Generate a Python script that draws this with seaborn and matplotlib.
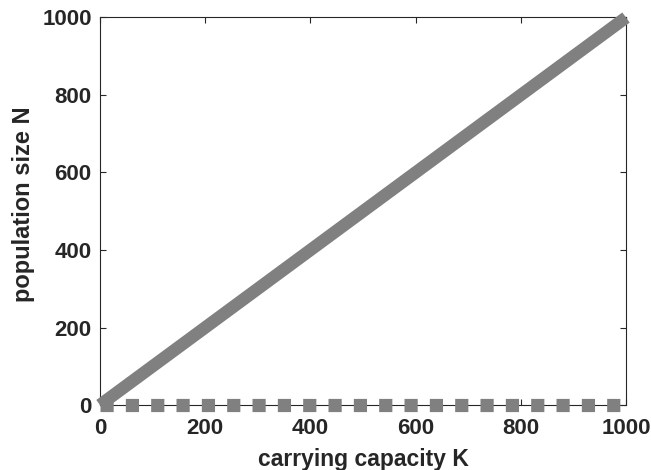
import matplotlib
matplotlib.use("Agg")
import matplotlib.pyplot as plt
import seaborn as sns
import pandas as pd

# data
carrying_capacity = [0, 1000]
population_stable = [0, 1000]
population_zero = [0, 0]
x_ticks = [0, 200, 400, 600, 800, 1000]
y_ticks = [0, 200, 400, 600, 800, 1000]

sns.set_style("ticks")
plt.rcParams["font.family"] = ["Liberation Sans", "DejaVu Sans"]
plt.rcParams["font.weight"] = "bold"

dark = "#262626"
gray = "#808080"

fig = plt.figure(figsize=(6.51, 4.70), dpi=100)
ax = fig.add_axes([100 / 651, 65 / 470, 526 / 651, 387.5 / 470])

df1 = pd.DataFrame({"K": carrying_capacity, "N": population_stable})
df2 = pd.DataFrame({"K": carrying_capacity, "N": population_zero})

sns.lineplot(data=df1, x="K", y="N", ax=ax, color=gray, linewidth=9.0,
             solid_capstyle="butt", clip_on=False, zorder=5)
sns.lineplot(data=df2, x="K", y="N", ax=ax, color=gray, linewidth=9.5,
             clip_on=False, zorder=5)
ax.lines[-1].set_dashes((1.0, 0.92))
ax.lines[-1].set_dash_capstyle("butt")

ax.set_xlim(0, 1000)
ax.set_ylim(0, 1000)
ax.set_xticks(x_ticks)
ax.set_yticks(y_ticks)
ax.set_xticklabels([str(v) for v in x_ticks])
ax.set_yticklabels([str(v) for v in y_ticks])

for s in ax.spines.values():
    s.set_visible(True)
    s.set_color(dark)
    s.set_linewidth(0.8)

ax.tick_params(axis="both", direction="in", length=4.5, width=0.8, color=dark,
               labelsize=16, labelcolor=dark, top=True, right=True)
ax.tick_params(axis="x", pad=9)
ax.tick_params(axis="y", pad=6)
for lab in ax.get_xticklabels() + ax.get_yticklabels():
    lab.set_fontweight("bold")

ax.set_xlabel("carrying capacity K", fontsize=16.5, fontweight="bold", color=dark, labelpad=7)
ax.set_ylabel("population size N", fontsize=17, fontweight="bold", color=dark)
ax.yaxis.set_label_coords(-0.124, 0.517)

fig.savefig("out.png", dpi=100)
